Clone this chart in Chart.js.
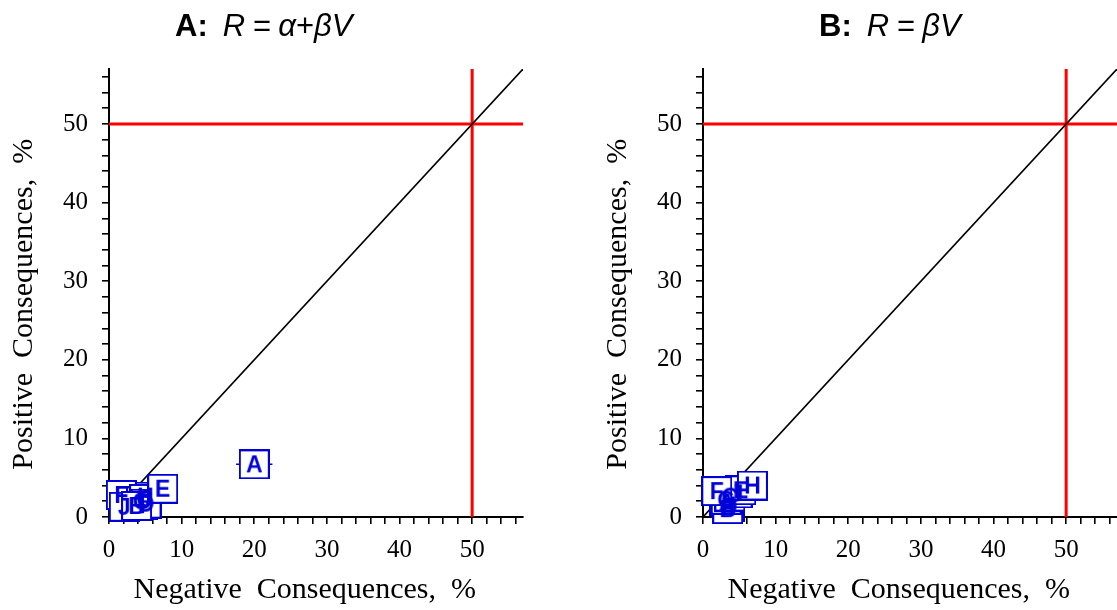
<!DOCTYPE html>
<html><head><meta charset="utf-8">
<script src="https://cdn.jsdelivr.net/npm/chart.js@4/dist/chart.umd.min.js"></script>
<style>
html,body{margin:0;padding:0;background:#fff;overflow:hidden;width:1117px;height:610px;position:relative;}
.panel{position:absolute;top:0;width:558px;height:610px;}
.title{position:absolute;font-family:"Liberation Sans",Arial,sans-serif;font-size:31px;white-space:nowrap;line-height:1;color:#000;}
.sp1{display:inline-block;width:15px;}
.sp2{display:inline-block;width:8px;}
.sp3{display:inline-block;width:7px;}
</style></head><body>
<div class="panel" style="left:0px"><canvas id="cA" width="558" height="610"></canvas></div>
<div class="panel" style="left:594px"><canvas id="cB" width="558" height="610"></canvas></div>
<div class="title" style="left:175px;top:10px"><b>A:</b><span class="sp1"></span><i>R</i><span class="sp2"></span>=<span class="sp3"></span><i>α</i>+<i>β</i><i>V</i></div>
<div class="title" style="left:819px;top:10px"><b>B:</b><span class="sp1"></span><i>R</i><span class="sp2"></span>=<span class="sp3"></span><i>β</i><i>V</i></div>
<script>
// ---- data ----
const lettersA = ['I','H','F','J','G','C','D','B','E','A'];
const negA     = [4.6, 5.0, 1.7, 2.1, 4.5, 4.9, 5.1, 3.8, 7.4, 20.0];
const posA     = [1.5, 2.6, 2.8, 1.3, 2.0, 2.3, 1.7, 1.4, 3.6, 6.7];
const errA     = [0.8, 0.8, 0.8, 0.8, 0.8, 0.8, 0.8, 0.8, 1.0, 2.5];

const lettersB = ['I','A','D','B','G','C','J','E','H','F'];
const negB     = [3.0, 3.3, 3.6, 3.4, 3.2, 3.7, 4.7, 5.2, 6.8, 1.9];
const posB     = [2.0, 1.8, 1.3, 1.0, 2.2, 2.6, 3.0, 3.4, 4.0, 3.3];
const errB     = [0.5, 0.8, 0.5, 0.5, 0.5, 0.5, 0.5, 0.5, 0.5, 0.5];

const axisMax = 57;
const refLevel = 50;
const tickStep = 2;
const labelStep = 10;

const BLUE = '#0000d8';
const SERIF = '"Liberation Serif","Times New Roman",serif';

function makeBox(){
  const c = document.createElement('canvas');
  c.width = 31; c.height = 30;
  const g = c.getContext('2d');
  g.fillStyle = '#fff'; g.fillRect(0,0,31,30);
  g.strokeStyle = BLUE; g.lineWidth = 2; g.strokeRect(1,1,29,28);
  return c;
}
function makeLetter(letter){
  const c = document.createElement('canvas');
  c.width = 31; c.height = 30;
  const g = c.getContext('2d');
  g.fillStyle = BLUE;
  g.font = 'bold 23px "Liberation Sans", Arial, sans-serif';
  g.textAlign = 'center'; g.textBaseline = 'alphabetic';
  g.fillText(letter, 15.5, 23.2);
  return c;
}

const errPlugin = {
  id: 'errbars',
  beforeDatasetDraw(chart, args){
    const ds = chart.data.datasets[args.index];
    if (!ds.xErr) return;
    const {ctx, scales:{x, y}} = chart;
    ctx.save();
    ctx.strokeStyle = BLUE; ctx.lineWidth = 1.5;
    ds.data.forEach((p, i) => {
      const e = ds.xErr[i];
      const py = y.getPixelForValue(p.y);
      ctx.beginPath();
      ctx.moveTo(x.getPixelForValue(p.x - e), py);
      ctx.lineTo(x.getPixelForValue(p.x + e), py);
      ctx.stroke();
    });
    ctx.restore();
  }
};

function axis(titleText, isX){
  return {
    type: 'linear', min: 0, max: axisMax,
    afterFit: s => { if (isX) s.height = 93; else s.width = 109; },
    ticks: {
      stepSize: tickStep, includeBounds: false, autoSkip: false,
      maxRotation: 0, minRotation: 0, padding: isX ? 11 : 14,
      color: '#000', font: {family: SERIF, size: 25},
      callback: v => (v % labelStep === 0 ? String(v) : '')
    },
    grid: {drawOnChartArea: false, drawTicks: true, tickLength: 7, color: '#000', lineWidth: 1.6},
    border: {display: true, color: '#000', width: 2},
    title: {display: true, text: titleText, color: '#000',
      font: {family: SERIF, size: 30},
      padding: isX ? {top: 0, bottom: 2} : {top: 6, bottom: 0}}
  };
}

function makeChart(id, letters, neg, pos, err){
  const pts = neg.map((v, i) => ({x: v, y: pos[i]}));
  new Chart(document.getElementById(id), {
    type: 'scatter',
    data: {datasets: [
      {data: pts, pointStyle: letters.map(makeLetter), pointRadius: 15, showLine: false, order: -1, clip: false},
      {data: pts, pointStyle: letters.map(makeBox), pointRadius: 15, showLine: false, xErr: err, order: 0, clip: false},
      {data: [{x:0,y:0},{x:axisMax,y:axisMax}], showLine: true, borderColor: '#000', borderWidth: 1.6, pointRadius: 0, order: 1},
      {data: [{x:0,y:refLevel},{x:axisMax,y:refLevel}], showLine: true, borderColor: '#ff0000', borderWidth: 3, pointRadius: 0, order: 2},
      {data: [{x:refLevel,y:0},{x:refLevel,y:axisMax}], showLine: true, borderColor: '#ff0000', borderWidth: 3, pointRadius: 0, order: 3}
    ]},
    options: {
      responsive: false, animation: false, devicePixelRatio: 1,
      layout: {padding: {left: 0, top: 69, right: 35, bottom: 0}},
      plugins: {legend: {display: false}, tooltip: {enabled: false}, title: {display: false}},
      scales: {
        x: axis('Negative  Consequences,  %   ', true),
        y: axis('Positive  Consequences,  %   ', false)
      }
    },
    plugins: [errPlugin]
  });
}

makeChart('cA', lettersA, negA, posA, errA);
makeChart('cB', lettersB, negB, posB, errB);
</script>
</body></html>
